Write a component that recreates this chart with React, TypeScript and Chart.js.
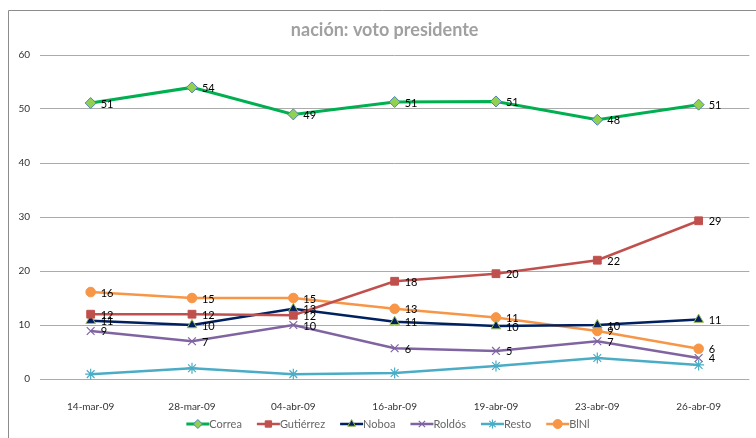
import React, { useEffect, useRef } from 'react';
import { Chart, registerables } from 'chart.js';
import { drawPoint } from 'chart.js/helpers';

Chart.register(...registerables);

const categories = ['14-mar-09', '28-mar-09', '04-abr-09', '16-abr-09', '19-abr-09', '23-abr-09', '26-abr-09'];
const correa = [51.1, 54, 49, 51.3, 51.4, 48, 50.8];
const gutierrez = [12, 12, 11.8, 18.1, 19.5, 22, 29.3];
const noboa = [10.8, 10, 13, 10.6, 9.8, 10, 11];
const roldos = [8.9, 7, 10, 5.7, 5.2, 7, 3.9];
const resto = [0.9, 2, 0.9, 1.1, 2.4, 3.9, 2.6];
const blnl = [16.1, 15, 15, 13, 11.4, 8.9, 5.6];
const seriesNames = ['Correa', 'Gutiérrez', 'Noboa', 'Roldós', 'Resto', 'BlNl'];
const showLabels = [true, true, true, true, false, true];
const yMin = 0;
const yMax = 60;
const yStep = 10;
const titleText = 'nación: voto presidente';

const FONT = 'Lato, "Open Sans", sans-serif';

const styles = [
  { line: '#00B050', fill: '#92D050', border: '#4F81BD', point: 'rectRot', width: 3, radius: 5.5, bw: 1 },
  { line: '#C0504D', fill: '#C0504D', border: '#C0504D', point: 'rect', width: 2.5, radius: 5.5, bw: 1 },
  { line: '#002060', fill: '#002060', border: '#9BBB59', point: 'triangle', width: 2.5, radius: 5.5, bw: 1 },
  { line: '#8064A2', fill: '#8064A2', border: '#8064A2', point: 'crossRot', width: 2.5, radius: 5.5, bw: 1.2 },
  { line: '#4BACC6', fill: '#4BACC6', border: '#4BACC6', point: 'star', width: 2.5, radius: 5.5, bw: 1.2 },
  { line: '#F79646', fill: '#F79646', border: '#F79646', point: 'circle', width: 2.5, radius: 4.8, bw: 1 },
];

const seriesData = [correa, gutierrez, noboa, roldos, resto, blnl];

const framePlugin = {
  id: 'frame',
  beforeDraw(chart: any) {
    const ctx = chart.ctx;
    ctx.save();
    ctx.fillStyle = '#ffffff';
    ctx.fillRect(0, 0, chart.width, chart.height);
    ctx.strokeStyle = '#8c8c8c';
    ctx.lineWidth = 1;
    ctx.beginPath();
    ctx.moveTo(8.5, chart.height);
    ctx.lineTo(8.5, 10.5);
    ctx.lineTo(chart.width, 10.5);
    ctx.stroke();
    ctx.font = `bold 18px ${FONT}`;
    ctx.fillStyle = '#a0a0a0';
    ctx.textAlign = 'center';
    ctx.textBaseline = 'middle';
    const ca = chart.chartArea;
    ctx.fillText(titleText, (ca.left + ca.right) / 2 - 10, 30);
    ctx.restore();
  },
};

const labelsPlugin = {
  id: 'valueLabels',
  afterDatasetsDraw(chart: any) {
    const ctx = chart.ctx;
    ctx.save();
    ctx.font = `11px ${FONT}`;
    ctx.fillStyle = '#000000';
    ctx.textAlign = 'left';
    ctx.textBaseline = 'middle';
    chart.data.datasets.forEach((ds: any, i: number) => {
      if (!showLabels[i]) return;
      const meta = chart.getDatasetMeta(i);
      meta.data.forEach((pt: any, j: number) => {
        ctx.fillText(String(Math.round(ds.data[j])), pt.x + 10, pt.y + 1);
      });
    });
    ctx.restore();
  },
};

const legendPlugin = {
  id: 'customLegend',
  afterDraw(chart: any) {
    const ctx = chart.ctx;
    ctx.save();
    ctx.font = `11px ${FONT}`;
    ctx.textBaseline = 'middle';
    ctx.textAlign = 'left';
    const lineLen = 23;
    const gap = 15;
    const widths = seriesNames.map((n) => ctx.measureText(n).width);
    const total = widths.reduce((a, b) => a + b, 0) + seriesNames.length * lineLen + (seriesNames.length - 1) * gap;
    let x = 388 - total / 2;
    const y = 424;
    seriesNames.forEach((name, i) => {
      const s = styles[i];
      ctx.strokeStyle = s.line;
      ctx.lineWidth = s.width;
      ctx.beginPath();
      ctx.moveTo(x, y);
      ctx.lineTo(x + lineLen, y);
      ctx.stroke();
      ctx.fillStyle = s.fill;
      ctx.strokeStyle = s.border;
      ctx.lineWidth = s.bw;
      drawPoint(ctx, { pointStyle: s.point as any, radius: 4.5, rotation: 0, borderWidth: s.bw }, x + lineLen / 2, y);
      ctx.fillStyle = '#666666';
      ctx.fillText(name, x + lineLen, y + 0.5);
      x += lineLen + widths[i] + gap;
    });
    ctx.restore();
  },
};

export default function App() {
  const ref = useRef<HTMLCanvasElement | null>(null);
  useEffect(() => {
    document.body.style.margin = '0';
    const canvas = ref.current;
    if (!canvas) return;
    const chart = new Chart(canvas, {
      type: 'line',
      data: {
        labels: categories,
        datasets: seriesData.map((d, i) => ({
          label: seriesNames[i],
          data: d,
          borderColor: styles[i].line,
          backgroundColor: styles[i].fill,
          borderWidth: styles[i].width,
          pointStyle: styles[i].point as any,
          pointRadius: styles[i].radius,
          pointBackgroundColor: styles[i].fill,
          pointBorderColor: styles[i].border,
          pointBorderWidth: styles[i].bw,
          tension: 0,
          fill: false,
          clip: false as any,
        })),
      },
      options: {
        responsive: false,
        animation: false,
        layout: { padding: { top: 55, left: 0, right: 4, bottom: 0 } },
        plugins: {
          legend: { display: false },
          title: { display: false },
          tooltip: { enabled: false },
        },
        scales: {
          x: {
            type: 'category',
            offset: true,
            grid: { display: false, drawTicks: false },
            border: { display: false },
            ticks: { font: { family: FONT, size: 10 }, color: '#333333', padding: 22, maxRotation: 0 },
            afterFit: (scale: any) => {
              scale.height = 59;
            },
          },
          y: {
            min: yMin,
            max: yMax,
            ticks: { stepSize: yStep, font: { family: FONT, size: 10 }, color: '#333333', padding: 10 },
            grid: { color: '#ababab', lineWidth: 1, drawTicks: false },
            border: { display: false },
            afterFit: (scale: any) => {
              scale.width = 40;
            },
          },
        },
      },
      plugins: [framePlugin, labelsPlugin, legendPlugin],
    });
    return () => chart.destroy();
  }, []);
  return (
    <div style={{ position: 'absolute', left: 0, top: 0, width: 756, height: 438 }}>
      <canvas ref={ref} width={756} height={438} style={{ width: 756, height: 438 }} />
    </div>
  );
}
